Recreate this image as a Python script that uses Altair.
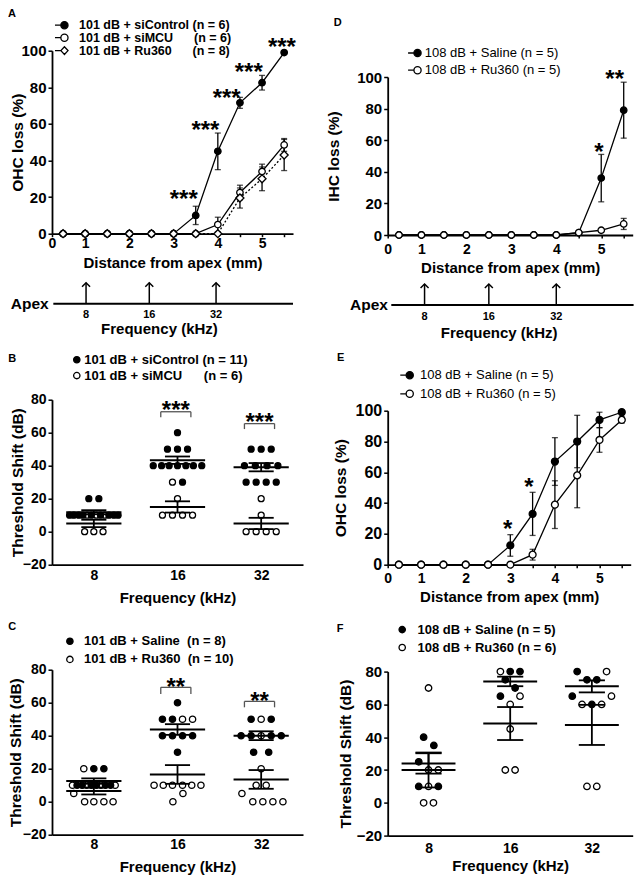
import altair as alt
import pandas as pd

FONT = "Liberation Sans"

# ---------------------------------------------------------------- data
DIST_MM = [0.5, 1.0, 1.5, 2.0, 2.5, 3.0, 3.5, 4.0, 4.5, 5.0, 5.5]
# 0.25 mm is the axis origin of the distance axes; it is labelled "0"
DIST_TICKS = [0.25, 0.5, 1.0, 1.5, 2.0, 2.5, 3.0, 3.5, 4.0, 4.5, 5.0, 5.5]
PCT_TICKS = [0, 20, 40, 60, 80, 100]
SHIFT_TICKS = [-20, 0, 20, 40, 60, 80]
FREQ_LABELS = ["8", "16", "32"]

# Panel A (OHC loss, 101 dB)
A_SICONTROL = [0, 0, 0, 0, 0, 0, 10, 45, 71.5, 82.5, 99]
A_SICONTROL_SEM = [0, 0, 0, 0, 0, 0, 5, 10, 3, 4, 0.8]
A_SIMCU = [0, 0, 0, 0, 0, 0, 0, 5, 22.5, 34, 48.5]
A_SIMCU_SEM = [0, 0, 0, 0, 0, 0, 0, 4, 4, 4, 3.5]
A_RU360 = [0, 0, 0, 0, 0, 0, 0, 0, 19.5, 30, 43]
A_RU360_SEM = [0, 0, 0, 0, 0, 0, 0, 0, 5.5, 6.5, 8.5]
A_LEGEND = ["101 dB + siControl (n = 6)",
            "101 dB + siMCU\u00a0\u00a0\u00a0\u00a0\u00a0 (n = 6)",
            "101 dB + Ru360\u00a0\u00a0\u00a0\u00a0\u00a0 (n = 8)"]
A_STAR_MM = [3.23, 3.72, 4.2, 4.7, 5.45]
A_STAR_PCT = [21.6, 59.5, 76.7, 91.3, 105]
A_STAR_TEXT = ["***", "***", "***", "***", "***"]
A_FREQ_MM = [1.02, 2.45, 3.96]
A_APEX_LINE_MM = [0.28, 5.7]
A_FREQ_TITLE_MM = [2.68]

# Panel D (IHC loss, 108 dB)
D_SALINE = [0, 0, 0, 0, 0, 0, 0, 0, 1.5, 36, 79]
D_SALINE_SEM = [0, 0, 0, 0, 0, 0, 0, 0, 0.8, 15, 17.7]
D_RU360 = [0, 0, 0, 0, 0, 0, 0, 0, 1.5, 3, 7]
D_RU360_SEM = [0, 0, 0, 0, 0, 0, 0, 0, 0.5, 1, 3.5]
D_LEGEND = ["108 dB + Saline (n = 5)", "108 dB + Ru360 (n = 5)"]
D_STAR_MM = [4.95, 5.3]
D_STAR_PCT = [55.6, 102]
D_STAR_TEXT = ["*", "**"]
D_FREQ_MM = [1.07, 2.5, 4.0]
D_APEX_LINE_MM = [0.33, 5.72]
D_FREQ_TITLE_MM = [2.73]

# Panel E (OHC loss, 108 dB)
E_SALINE = [0, 0, 0, 0, 0, 12.5, 33, 67, 80, 94, 99]
E_SALINE_SEM = [0, 0, 0, 0, 0, 7, 14, 15.5, 17, 5, 1]
E_RU360 = [0, 0, 0, 0, 0, 0, 6.5, 39, 58, 81, 94]
E_RU360_SEM = [0, 0, 0, 0, 0, 0, 3.5, 15.5, 21, 8, 2]
E_LEGEND = ["108 dB + Saline (n = 5)", "108 dB + Ru360 (n = 5)"]
E_STAR_MM = [2.94, 3.42]
E_STAR_PCT = [26.4, 54]
E_STAR_TEXT = ["*", "*"]

# Panel B (threshold shift, siControl vs siMCU); cat 0/1/2 = 8/16/32 kHz
B_CTRL_CAT = [0] * 11 + [1] * 12 + [2] * 11
B_CTRL_DX = [-0.06, 0.06, -0.29, -0.24, -0.18, -0.13, -0.03, 0.08, 0.18, 0.24, 0.29,
             0, -0.12, 0, 0.12, -0.29, -0.19, -0.1, 0, 0.1, 0.19, 0.29, 0.06,
             -0.12, 0, 0.12, -0.2, -0.07, 0.07, 0.2, -0.18, -0.06, 0.06, 0.18]
B_CTRL_DB = [20, 20, 10, 10, 10, 10, 10, 10, 10, 10, 10,
             60, 50, 50, 50, 40, 40, 40, 40, 40, 40, 40, 30,
             50, 50, 50, 40, 40, 40, 40, 30, 30, 30, 30]
B_TRT_CAT = [0] * 6 + [1] * 6 + [2] * 6
B_TRT_DX = [-0.11, 0, 0.11, -0.08, 0.03, 0.13,
            -0.06, 0, -0.18, -0.06, 0.06, 0.18,
            0, 0, -0.18, -0.06, 0.06, 0.18]
B_TRT_DB = [0, 0, 0, 10, 10, 10,
            30, 20, 10, 10, 10, 10,
            20, 10, 0, 0, 0, 0]
B_LEGEND = ["101 dB + siControl (n = 11)", "101 dB + siMCU\u00a0\u00a0\u00a0\u00a0\u00a0 (n = 6)"]
B_BRACKET_CAT = [1, 2]
B_BRACKET_TOP = [72.7, 65.5]
B_BRACKET_LOW = [69.3, 62.2]
B_STAR_DB = [76.7, 69.7]
B_STAR_TEXT = ["***", "***"]

# Panel C (threshold shift, Saline vs Ru360, 101 dB)
C_CTRL_CAT = [0] * 8 + [1] * 8 + [2] * 8
C_CTRL_DX = [0, 0.12, -0.2, -0.14, -0.03, 0.03, 0.14, 0.2,
             0, -0.18, -0.06, -0.18, -0.06, 0.06, 0.18, 0,
             -0.12, 0.12, -0.24, -0.12, 0.12, 0.24, -0.09, 0.09]
C_CTRL_DB = [20, 20, 10, 10, 10, 10, 10, 10,
             60, 50, 50, 40, 40, 40, 40, 30,
             50, 50, 40, 40, 40, 40, 30, 30]
C_TRT_CAT = [0] * 10 + [1] * 10 + [2] * 10
C_TRT_DX = [-0.12, -0.255, -0.085, 0.085, 0.255, -0.24, -0.11, 0, 0.12, 0.23,
            0.06, 0.18, -0.28, -0.17, -0.06, 0.06, 0.17, 0.28, 0.065, -0.055,
            0, 0, 0, -0.06, 0.06, -0.23, -0.1, 0.02, 0.14, 0.26]
C_TRT_DB = [20, 10, 10, 10, 10, 5, 0, 0, 0, 0,
            50, 50, 10, 10, 10, 10, 10, 10, 5, 0,
            50, 40, 20, 10, 10, 5, 0, 0, 0, 0]
C_LEGEND = ["101 dB + Saline\u00a0 (n = 8)", "101 dB + Ru360\u00a0 (n = 10)"]
C_BRACKET_CAT = [1, 2]
C_BRACKET_TOP = [69.3, 60.8]
C_BRACKET_LOW = [65.3, 57.2]
C_STAR_DB = [72.5, 63.8]
C_STAR_TEXT = ["**", "**"]

# Panel F (threshold shift, Saline vs Ru360, 108 dB)
F_CTRL_CAT = [0] * 5 + [1] * 5 + [2] * 5
F_CTRL_DX = [-0.06, 0.065, -0.12, -0.12, 0.12,
             0, 0.12, -0.06, 0.06, -0.12,
             -0.18, -0.06, 0.06, -0.24, 0]
F_CTRL_DB = [40, 35, 25, 10, 10,
             80, 80, 75, 70, 65,
             80, 75, 75, 65, 60]
F_TRT_CAT = [0] * 6 + [1] * 6 + [2] * 6
F_TRT_DX = [0, 0, 0.12, 0, -0.06, 0.06,
            -0.12, 0.12, 0, 0, -0.06, 0.06,
            0.18, 0.24, -0.12, 0.12, -0.06, 0.06]
F_TRT_DB = [70, 20, 20, 10, 0, 0,
            80, 65, 60, 45, 20, 20,
            80, 65, 60, 60, 10, 10]
F_LEGEND = ["108 dB + Saline (n = 5)", "108 dB + Ru360 (n = 6)"]

# ---------------------------------------------------------------- styles
STUB_CIRCLE = "M-1,0L-0.1,0M1,0A0.55,0.55,0,1,1,-0.1,0A0.55,0.55,0,1,1,1,0Z"
STUB_DIAMOND = "M-1,0L-0.1,0M-0.1,0L0.45,-0.6L1,0L0.45,0.6Z"
CHEVRON = "M-1,0.5L0,-0.5L1,0.5"
LW = 1.3


def letter_layer(letter, x, y, dx, X, Y):
    df = pd.DataFrame({"x": [x], "y": [y], "t": [letter]})
    return alt.Chart(df).mark_text(font=FONT, fontSize=11, fontWeight="bold", align="left",
                                   baseline="alphabetic", dx=dx, color="black").encode(
        x=X("x"), y=Y("y"), text="t:N")


def line_panel(p):
    xs = alt.Scale(domain=[0.25, 5.7], nice=False, zero=False)
    ys = alt.Scale(domain=[0, 100], nice=False, zero=False)
    xaxis = alt.Axis(values=DIST_TICKS,
                     labelExpr="datum.value == 0.25 ? '0' : (datum.value % 1 == 0 ? format(datum.value, 'd') : '')",
                     title="Distance from apex (mm)", labelFontSize=14, titleFontSize=15,
                     tickSize=3, labelPadding=p["xlabpad"], titlePadding=p["xtitlepad"],
                     labelOverlap=False, labelFlush=False)
    yaxis = alt.Axis(values=PCT_TICKS, title=p["ytitle"], labelFontSize=p["ylabsize"],
                     titleFontSize=15.5, tickSize=4, labelPadding=2,
                     titlePadding=p["ytitlepad"], labelOverlap=False)

    def X(f):
        return alt.X(f + ":Q", scale=xs, axis=xaxis)

    def Y(f):
        return alt.Y(f + ":Q", scale=ys, axis=yaxis)

    k = 100.0 / p["height"]
    lines, errs, pts = [], [], []
    for i, s in enumerate(p["series"]):
        df = pd.DataFrame({"x": DIST_MM, "y": s["values"], "sem": s["sem"]})
        df["lo"] = df["y"] - df["sem"]
        df["hi"] = df["y"] + df["sem"]
        df["label"] = s["label"]
        c = alt.Chart(df)
        kw = dict(color="black", strokeWidth=LW)
        if s.get("dash"):
            kw["strokeDash"] = s["dash"]
        lines.append(c.mark_line(**kw).encode(x=X("x"), y=Y("y")))
        e = c.transform_filter("datum.sem > 0")
        errs.append(e.mark_rule(color="black", strokeWidth=LW).encode(x=X("x"), y=Y("lo"), y2="hi"))
        errs.append(e.mark_tick(orient="horizontal", color="black", size=6, thickness=LW)
                    .encode(x=X("x"), y=Y("hi")))
        errs.append(e.mark_tick(orient="horizontal", color="black", size=6, thickness=LW)
                    .encode(x=X("x"), y=Y("lo")))
        diamond = s["shape"] == "diamond"
        leg = alt.Legend(orient="none", legendX=p["legX"], legendY=p["legY"][i], title=None,
                         labelFont=FONT, labelFontSize=p.get("legfont", 13),
                         labelFontWeight=p["legweight"],
                         labelColor="black", symbolType=STUB_DIAMOND if diamond else STUB_CIRCLE,
                         symbolSize=170, symbolStrokeWidth=LW, symbolStrokeColor="black",
                         symbolOpacity=1, labelOffset=p["legoff"], labelLimit=400, padding=0)
        pts.append(c.mark_point(shape=s["shape"], filled=True, stroke="black", strokeWidth=LW,
                                size=64 if diamond else p["size"], opacity=1).encode(
            x=X("x"), y=Y("y"),
            fill=alt.Fill("label:N", scale=alt.Scale(domain=[s["label"]], range=[s["fill"]]),
                          legend=leg)))

    star_df = pd.DataFrame({"x": p["star_x"], "y": p["star_y"], "t": p["star_t"]})
    stars = alt.Chart(star_df).mark_text(font=FONT, fontSize=24, fontWeight="bold",
                                         baseline="alphabetic", dy=13, color="black").encode(
        x=X("x"), y=Y("y"), text="t:N")

    layers = lines + errs + pts + [stars,
                                   letter_layer(p["letter"], 0.25, 100 + p["letter_px"] * k,
                                                p["tdx"], X, Y)]

    if p.get("freq"):
        f = p["freq"]
        y_base = -f["base"] * k
        y_tip = -f["tip"] * k
        y_head = -(f["tip"] + 2) * k
        y_lab = -f["label"] * k
        y_title = -f["title"] * k
        base_df = pd.DataFrame({"x": [f["line"][0]], "x2": [f["line"][1]], "y": [y_base],
                                "t": ["Apex"]})
        arr_df = pd.DataFrame({"x": f["mm"], "y": [y_base] * 3, "y2": [y_tip] * 3,
                               "yh": [y_head] * 3, "yl": [y_lab] * 3, "t": FREQ_LABELS})
        ttl_df = pd.DataFrame({"x": f["title_mm"], "y": [y_title], "t": ["Frequency (kHz)"]})
        layers += [
            alt.Chart(base_df).mark_rule(color="black", strokeWidth=2).encode(
                x=X("x"), x2="x2", y=Y("y")),
            alt.Chart(base_df).mark_text(font=FONT, fontSize=15.5, fontWeight="bold", align="right",
                                         baseline="middle", dx=f["apex_dx"], color="black").encode(
                x=X("x"), y=Y("y"), text="t:N"),
            alt.Chart(arr_df).mark_rule(color="black", strokeWidth=1.5).encode(
                x=X("x"), y=Y("y"), y2="y2"),
            alt.Chart(arr_df).mark_point(shape=CHEVRON, filled=False, stroke="black",
                                         strokeWidth=1.5, size=64, opacity=1).encode(
                x=X("x"), y=Y("yh")),
            alt.Chart(arr_df).mark_text(font=FONT, fontSize=11, fontWeight="bold", baseline="top",
                                        color="black").encode(x=X("x"), y=Y("yl"), text="t:N"),
            alt.Chart(ttl_df).mark_text(font=FONT, fontSize=15, fontWeight="bold", baseline="top",
                                        color="black").encode(x=X("x"), y=Y("y"), text="t:N"),
        ]

    return alt.layer(*layers).resolve_scale(fill="independent").resolve_legend(
        fill="independent").properties(width=p["width"], height=p["height"])


def scatter_panel(p):
    xs = alt.Scale(domain=[0, 3], nice=False, zero=False)
    ys = alt.Scale(domain=[-20, 80], nice=False, zero=False)
    lab_expr = "datum.value < 1 ? '%s' : (datum.value < 2 ? '%s' : '%s')" % tuple(FREQ_LABELS)
    xaxis = alt.Axis(values=[0.5, 1.5, 2.5], labelExpr=lab_expr, title="Frequency (kHz)",
                     ticks=False, tickSize=0, labelFontSize=14, titleFontSize=15,
                     labelPadding=p["xlabpad"], titlePadding=p["xtitlepad"], labelOverlap=False)
    yaxis = alt.Axis(values=SHIFT_TICKS, title="Threshold Shift (dB)", labelFontSize=p["ylabsize"],
                     titleFontSize=15.5, tickSize=4, labelPadding=2, titlePadding=p["ytitlepad"],
                     labelOverlap=False)

    def X(f):
        return alt.X(f + ":Q", scale=xs, axis=xaxis)

    def Y(f):
        return alt.Y(f + ":Q", scale=ys, axis=yaxis)

    ctrl_lab, trt_lab = p["legend"]
    rows = []
    for lab, cats, dxs, vals in [(trt_lab, p["trt_cat"], p["trt_dx"], p["trt_v"]),
                                 (ctrl_lab, p["ctrl_cat"], p["ctrl_dx"], p["ctrl_v"])]:
        for c, d, v in zip(cats, dxs, vals):
            rows.append({"label": lab, "cat": c, "dx": d, "v": v})
    df = pd.DataFrame(rows)

    leg_kw = dict(orient="none", legendX=p["legX"], legendY=p["legY"],
                  labelFont=FONT, labelFontSize=13, labelFontWeight="bold", labelColor="black",
                  symbolType="circle", symbolSize=40, symbolStrokeWidth=LW,
                  symbolStrokeColor="black", symbolOpacity=1, rowPadding=p["legrow"],
                  labelOffset=p["legoff"], labelLimit=400, padding=0)
    if p.get("legtitle"):
        leg_kw.update(title=p["legtitle"], titleOrient="left", titleAnchor="start",
                      titleBaseline="top", titleFont=FONT, titleFontSize=11, titleFontWeight="bold",
                      titleColor="black", titlePadding=p["legtitlepad"])
    else:
        leg_kw.update(title=None)
    leg = alt.Legend(**leg_kw)

    points = alt.Chart(df).transform_calculate(x="datum.cat + 0.5 + datum.dx").mark_point(
        shape="circle", filled=True, stroke="black", strokeWidth=LW, size=p["size"], opacity=1).encode(
        x=X("x"), y=Y("v"),
        fill=alt.Fill("label:N", scale=alt.Scale(domain=[ctrl_lab, trt_lab], range=["black", "white"]),
                      legend=leg))

    layers = [points]
    mw, cw = p["meanw"], p["capw"]
    for lab in (trt_lab, ctrl_lab):
        st = alt.Chart(df).transform_filter(alt.FieldEqualPredicate(field="label", equal=lab)) \
            .transform_aggregate(m="mean(v)", s="stderr(v)", groupby=["cat"]) \
            .transform_calculate(xc="datum.cat + 0.5",
                                 xl="datum.cat + 0.5 - %s" % mw, xr="datum.cat + 0.5 + %s" % mw,
                                 cl="datum.cat + 0.5 - %s" % cw, cr="datum.cat + 0.5 + %s" % cw,
                                 lo="datum.m - datum.s", hi="datum.m + datum.s")
        layers += [
            st.mark_rule(color="black", strokeWidth=2).encode(x=X("xl"), x2="xr", y=Y("m")),
            st.mark_rule(color="black", strokeWidth=1.8).encode(x=X("xc"), y=Y("lo"), y2="hi"),
            st.mark_rule(color="black", strokeWidth=1.8).encode(x=X("cl"), x2="cr", y=Y("lo")),
            st.mark_rule(color="black", strokeWidth=1.8).encode(x=X("cl"), x2="cr", y=Y("hi")),
        ]

    if p.get("br_cat"):
        seg = []
        for c, top, low in zip(p["br_cat"], p["br_top"], p["br_low"]):
            xl, xr = c + 0.5 - 0.2, c + 0.5 + 0.16
            seg += [dict(x=xl, x2=xr, y=top, y2=top), dict(x=xl, x2=xl, y=low, y2=top),
                    dict(x=xr, x2=xr, y=low, y2=top)]
        layers.append(alt.Chart(pd.DataFrame(seg)).mark_rule(color="#555555", strokeWidth=1.3).encode(
            x=X("x"), x2="x2", y=Y("y"), y2="y2"))
        sdf = pd.DataFrame({"x": [c + 0.5 - 0.02 for c in p["br_cat"]], "y": p["star_y"],
                            "t": p["star_t"]})
        layers.append(alt.Chart(sdf).mark_text(font=FONT, fontSize=24, fontWeight="bold",
                                               baseline="alphabetic", dy=13, color="black").encode(
            x=X("x"), y=Y("y"), text="t:N"))

    if p.get("letter"):
        layers.append(letter_layer(p["letter"], 0, 80 + p["letter_px"] * 100.0 / p["height"],
                                   p["tdx"], X, Y))
    return alt.layer(*layers).properties(width=p["width"], height=p["height"])


def indep(c):
    return c.resolve_scale(fill="independent", shape="independent").resolve_legend(
        fill="independent", shape="independent")


def spacer():
    # invisible 1-px cell that pins the top of each column
    return alt.Chart(pd.DataFrame({"v": [0]})).mark_point(opacity=0).encode(
        x=alt.value(0), y=alt.value(0)).properties(width=10, height=1)


# ---------------------------------------------------------------- panels
A = line_panel(dict(
    letter="A", tdx=-44, letter_px=33.3, width=241, height=183, size=42,
    ytitle="OHC loss (%)", ylabsize=15, ytitlepad=-5, xlabpad=0, xtitlepad=5,
    series=[dict(label=A_LEGEND[0], values=A_SICONTROL, sem=A_SICONTROL_SEM, shape="circle",
                 fill="black"),
            dict(label=A_LEGEND[1], values=A_SIMCU, sem=A_SIMCU_SEM, shape="circle", fill="white"),
            dict(label=A_LEGEND[2], values=A_RU360, sem=A_RU360_SEM, shape="diamond", fill="white",
                 dash=[2, 2])],
    star_x=A_STAR_MM, star_y=A_STAR_PCT, star_t=A_STAR_TEXT,
    legX=2, legY=[-33, -20.5, -7.6], legoff=10, legweight="bold", legfont=12.5,
    freq=dict(mm=A_FREQ_MM, line=A_APEX_LINE_MM, title_mm=A_FREQ_TITLE_MM,
              base=70, tip=49, label=75, title=88.5, apex_dx=-4.7),
))

D = line_panel(dict(
    letter="D", tdx=-54, letter_px=51, width=245, height=158, size=42,
    ytitle="IHC loss (%)", ylabsize=15, ytitlepad=15, xlabpad=4, xtitlepad=4,
    series=[dict(label=D_LEGEND[0], values=D_SALINE, sem=D_SALINE_SEM, shape="circle", fill="black"),
            dict(label=D_LEGEND[1], values=D_RU360, sem=D_RU360_SEM, shape="circle", fill="white")],
    star_x=D_STAR_MM, star_y=D_STAR_PCT, star_t=D_STAR_TEXT,
    legX=19.4, legY=[-31.5, -14.3], legoff=2.6, legweight="normal",
    freq=dict(mm=D_FREQ_MM, line=D_APEX_LINE_MM, title_mm=D_FREQ_TITLE_MM,
              base=70, tip=49, label=75.6, title=91.3, apex_dx=-3.4),
))

E = line_panel(dict(
    letter="E", tdx=-50.7, letter_px=50, width=243, height=154, size=48,
    ytitle="OHC loss (%)", ylabsize=16, ytitlepad=7, xlabpad=4, xtitlepad=4,
    series=[dict(label=E_LEGEND[0], values=E_SALINE, sem=E_SALINE_SEM, shape="circle", fill="black"),
            dict(label=E_LEGEND[1], values=E_RU360, sem=E_RU360_SEM, shape="circle", fill="white")],
    star_x=E_STAR_MM, star_y=E_STAR_PCT, star_t=E_STAR_TEXT,
    legX=11.6, legY=[-43, -24.4], legoff=5.7, legweight="normal",
))

B = scatter_panel(dict(
    width=251, height=165, ylabsize=14, ytitlepad=-3.5, xlabpad=4, xtitlepad=8, size=36,
    ctrl_cat=B_CTRL_CAT, ctrl_dx=B_CTRL_DX, ctrl_v=B_CTRL_DB,
    trt_cat=B_TRT_CAT, trt_dx=B_TRT_DX, trt_v=B_TRT_DB, legend=B_LEGEND,
    legX=-43.7, legY=-46.5, legrow=1.9, legoff=1, legtitle="B", legtitlepad=54,
    meanw=0.33, capw=0.15,
    br_cat=B_BRACKET_CAT, br_top=B_BRACKET_TOP, br_low=B_BRACKET_LOW,
    star_y=B_STAR_DB, star_t=B_STAR_TEXT,
))

C = scatter_panel(dict(
    letter="C", tdx=-43.7, letter_px=40, width=251, height=165, ylabsize=14, ytitlepad=-1,
    xlabpad=3, xtitlepad=8, size=40,
    ctrl_cat=C_CTRL_CAT, ctrl_dx=C_CTRL_DX, ctrl_v=C_CTRL_DB,
    trt_cat=C_TRT_CAT, trt_dx=C_TRT_DX, trt_v=C_TRT_DB, legend=C_LEGEND,
    legX=11.4, legY=-35, legrow=4.2, legoff=7.7,
    meanw=0.33, capw=0.15,
    br_cat=C_BRACKET_CAT, br_top=C_BRACKET_TOP, br_low=C_BRACKET_LOW,
    star_y=C_STAR_DB, star_t=C_STAR_TEXT,
))

F = scatter_panel(dict(
    width=245, height=164, ylabsize=15, ytitlepad=3, xlabpad=6, xtitlepad=3, size=42,
    ctrl_cat=F_CTRL_CAT, ctrl_dx=F_CTRL_DX, ctrl_v=F_CTRL_DB,
    trt_cat=F_TRT_CAT, trt_dx=F_TRT_DX, trt_v=F_TRT_DB, legend=F_LEGEND,
    legX=-51, legY=-48.5, legrow=3.9, legoff=8.8, legtitle="F", legtitlepad=52,
    meanw=0.33, capw=0.16,
))

col1 = indep(alt.vconcat(spacer(),
                         indep(alt.vconcat(indep(alt.vconcat(A, B, spacing=15)), C, spacing=15)),
                         spacing=-8.3))
col2 = indep(alt.vconcat(spacer(),
                         indep(alt.vconcat(indep(alt.vconcat(D, E, spacing=9.7)), F, spacing=17.6)),
                         spacing=1))

chart = indep(alt.hconcat(col1, col2, spacing=22.7)).properties(
    padding={"left": 0, "top": 0, "right": 0, "bottom": 0}
).configure_view(stroke=None).configure_axis(
    labelFont=FONT, titleFont=FONT, labelFontWeight="bold", titleFontWeight="bold",
    labelColor="black", titleColor="black", domainColor="black", tickColor="black",
    domainWidth=1.8, tickWidth=1.5, grid=False
).configure_legend(labelFont=FONT, titleFont=FONT, labelColor="black", titleColor="black")

chart.save("out.html", embed_options={"renderer": "svg", "actions": False})
